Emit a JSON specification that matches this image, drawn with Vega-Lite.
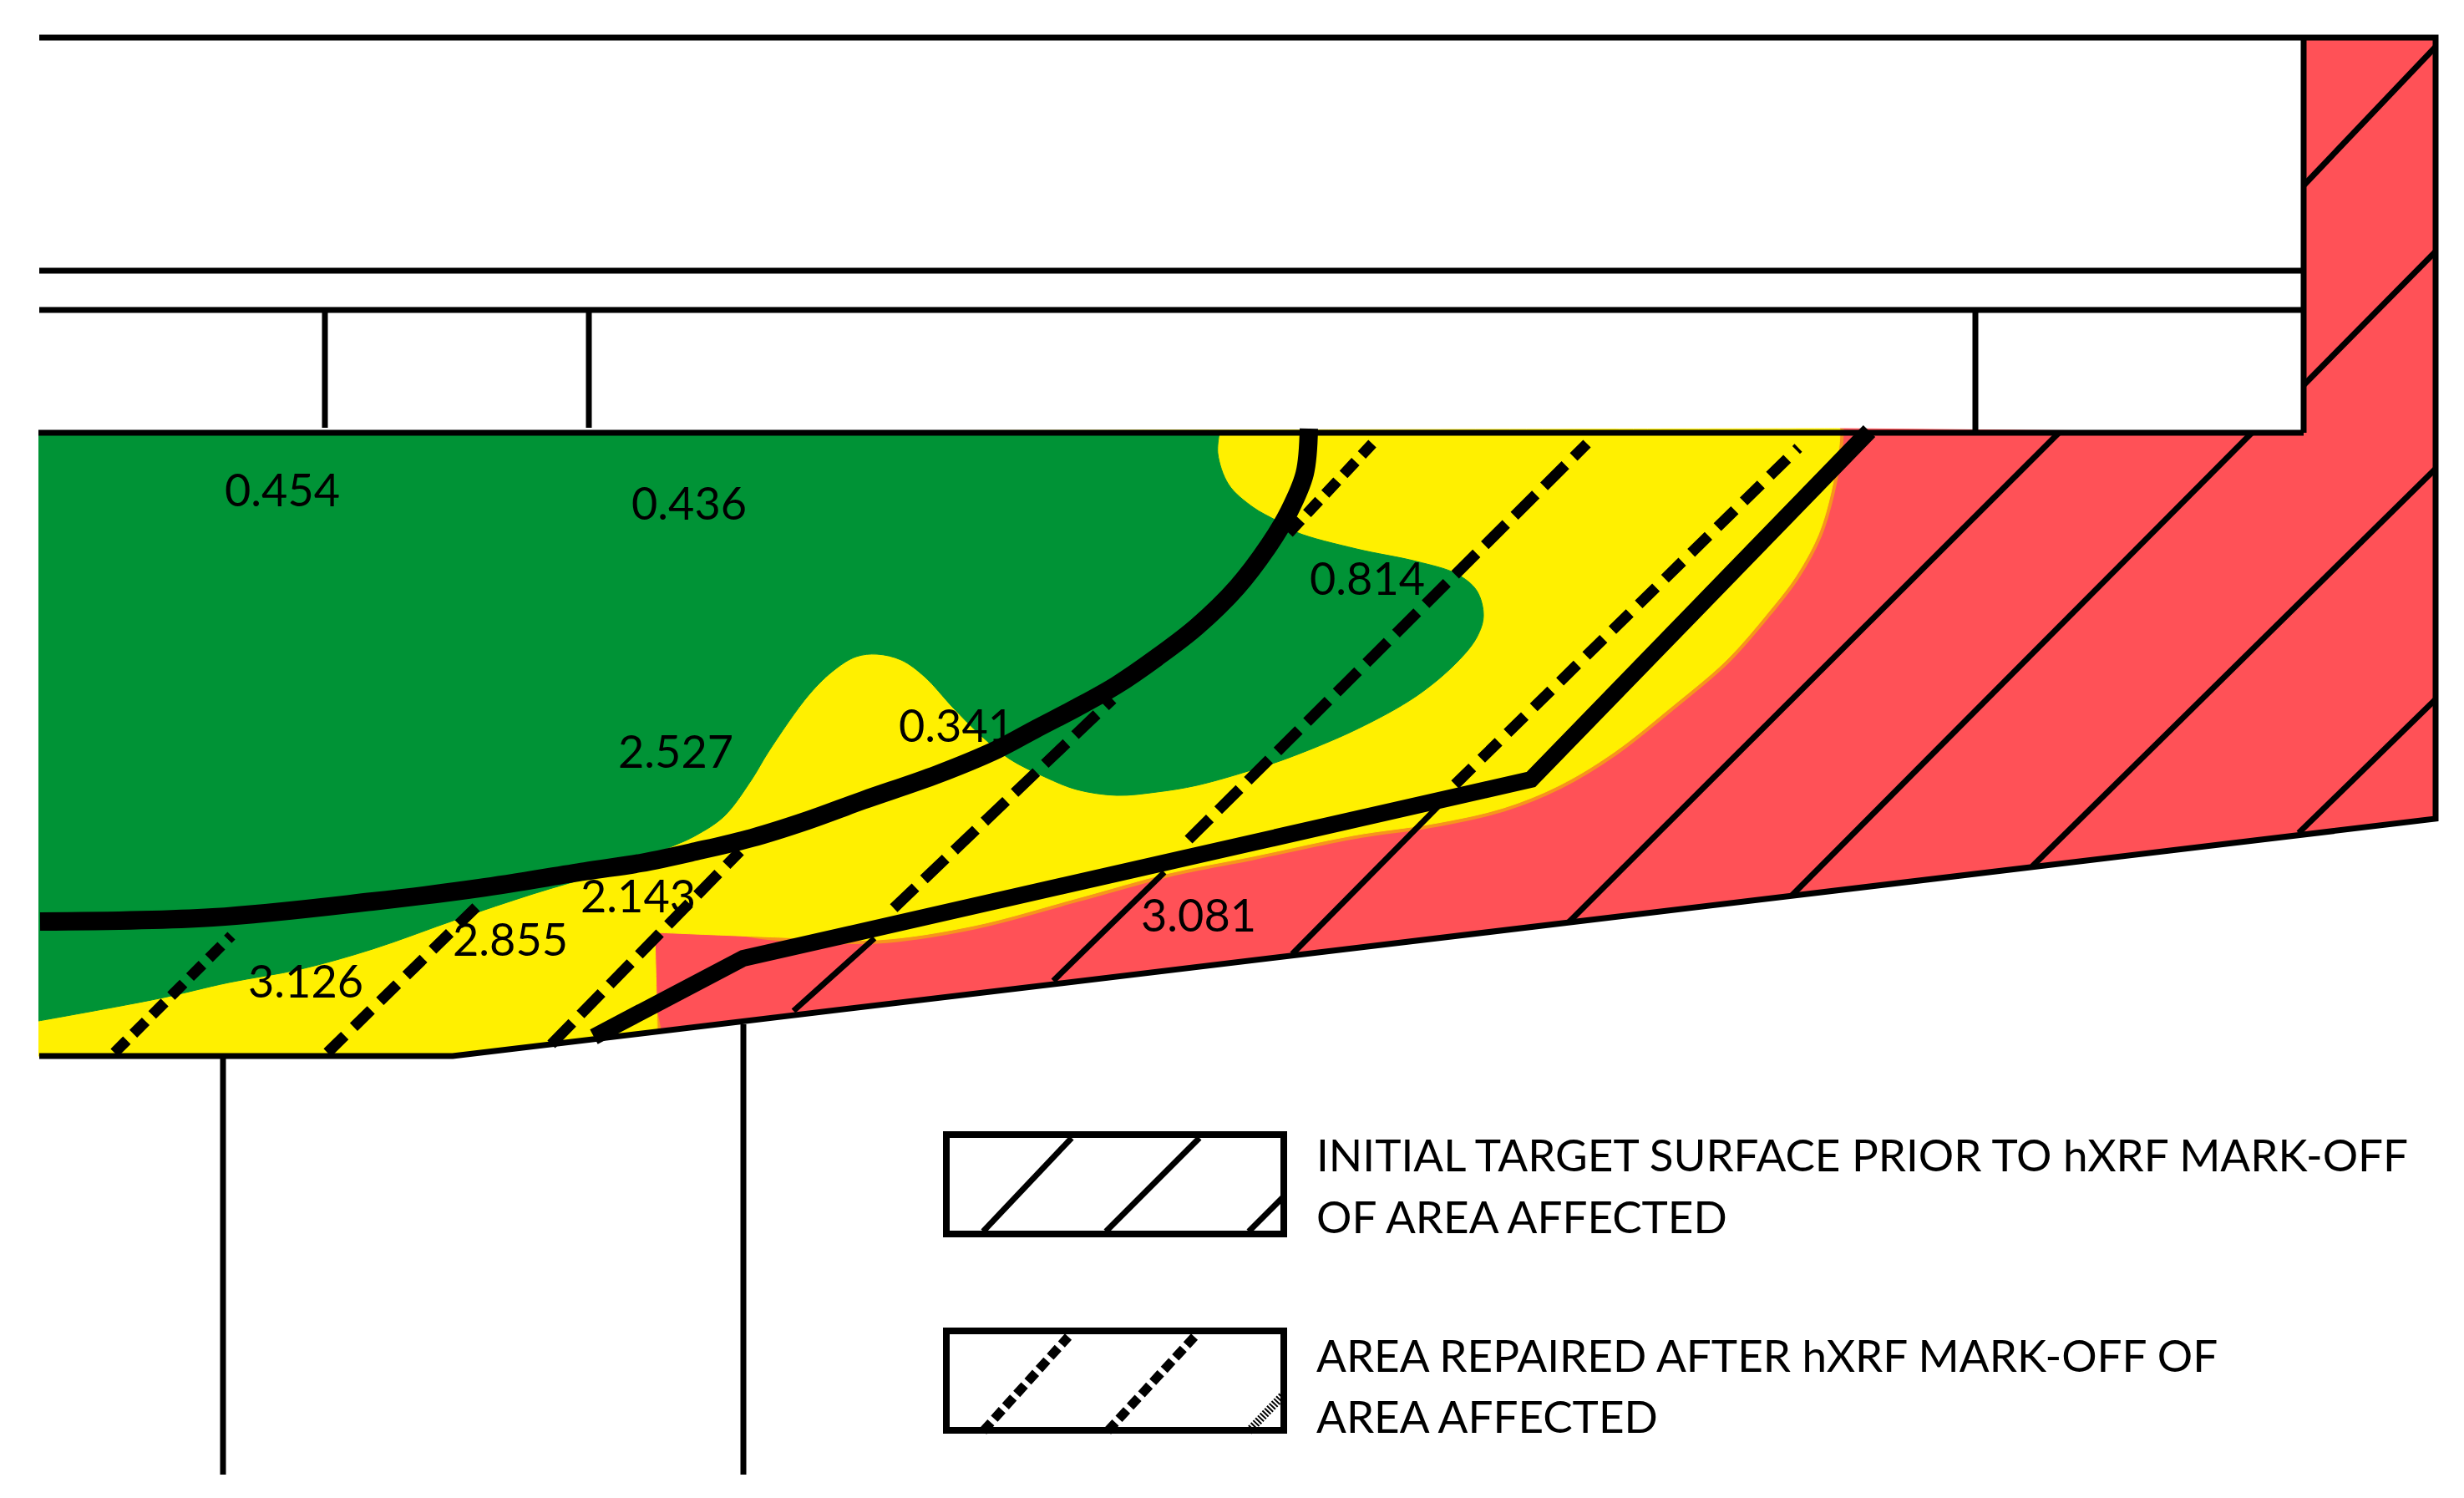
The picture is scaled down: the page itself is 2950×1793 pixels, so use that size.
{"$schema":"https://vega.github.io/schema/vega-lite/v6.json","width":2950,"height":1793,"autosize":{"type":"fit","contains":"padding"},"padding":0,"background":"white","view":{"stroke":null},
"config":{"axis":{"disable":true},"legend":{"disable":true}},
"datasets":{
"outline":[
{"shape":"red","order":1,"x":2758,"y":45},{"shape":"red","order":2,"x":2916,"y":45},{"shape":"red","order":3,"x":2916,"y":980},{"shape":"red","order":4,"x":784,"y":1232},{"shape":"red","order":5,"x":784,"y":1116},{"shape":"red","order":6,"x":1000,"y":1100},{"shape":"red","order":7,"x":1800,"y":900},{"shape":"red","order":8,"x":2203,"y":513},{"shape":"red","order":9,"x":2758,"y":518},
{"shape":"yellow","order":1,"x":46,"y":518},{"shape":"yellow","order":2,"x":46,"y":518},{"shape":"yellow","order":3,"x":2203,"y":513},{"shape":"yellow","order":4,"x":2203,"y":513},{"shape":"yellow","order":5,"x":2202,"y":533},{"shape":"yellow","order":6,"x":2192,"y":590},{"shape":"yellow","order":7,"x":2177,"y":640},{"shape":"yellow","order":8,"x":2150,"y":690},{"shape":"yellow","order":9,"x":2117,"y":733},{"shape":"yellow","order":10,"x":2067,"y":790},{"shape":"yellow","order":11,"x":2000,"y":847},{"shape":"yellow","order":12,"x":1933,"y":900},{"shape":"yellow","order":13,"x":1867,"y":940},{"shape":"yellow","order":14,"x":1800,"y":967},{"shape":"yellow","order":15,"x":1721,"y":985},{"shape":"yellow","order":16,"x":1620,"y":1000},{"shape":"yellow","order":17,"x":1500,"y":1025},{"shape":"yellow","order":18,"x":1400,"y":1045},{"shape":"yellow","order":19,"x":1290,"y":1075},{"shape":"yellow","order":20,"x":1166,"y":1108},{"shape":"yellow","order":21,"x":1050,"y":1125},{"shape":"yellow","order":22,"x":937,"y":1122},{"shape":"yellow","order":23,"x":784,"y":1116},{"shape":"yellow","order":24,"x":784,"y":1116},{"shape":"yellow","order":25,"x":787,"y":1232},{"shape":"yellow","order":26,"x":787,"y":1232},{"shape":"yellow","order":27,"x":542,"y":1264},{"shape":"yellow","order":28,"x":542,"y":1264},{"shape":"yellow","order":29,"x":46,"y":1264},{"shape":"yellow","order":30,"x":46,"y":1264},
{"shape":"green","order":1,"x":46,"y":518},{"shape":"green","order":2,"x":46,"y":518},{"shape":"green","order":3,"x":1460,"y":518},{"shape":"green","order":4,"x":1460,"y":518},{"shape":"green","order":5,"x":1458,"y":543},{"shape":"green","order":6,"x":1471,"y":580},{"shape":"green","order":7,"x":1500,"y":607},{"shape":"green","order":8,"x":1528,"y":623},{"shape":"green","order":9,"x":1552,"y":637},{"shape":"green","order":10,"x":1624,"y":657},{"shape":"green","order":11,"x":1696,"y":672},{"shape":"green","order":12,"x":1744,"y":687},{"shape":"green","order":13,"x":1768,"y":707},{"shape":"green","order":14,"x":1776,"y":737},{"shape":"green","order":15,"x":1768,"y":763},{"shape":"green","order":16,"x":1744,"y":793},{"shape":"green","order":17,"x":1696,"y":833},{"shape":"green","order":18,"x":1624,"y":873},{"shape":"green","order":19,"x":1543,"y":907},{"shape":"green","order":20,"x":1504,"y":920},{"shape":"green","order":21,"x":1433,"y":940},{"shape":"green","order":22,"x":1385,"y":948},{"shape":"green","order":23,"x":1337,"y":952},{"shape":"green","order":24,"x":1289,"y":945},{"shape":"green","order":25,"x":1251,"y":930},{"shape":"green","order":26,"x":1208,"y":908},{"shape":"green","order":27,"x":1174,"y":880},{"shape":"green","order":28,"x":1141,"y":847},{"shape":"green","order":29,"x":1107,"y":810},{"shape":"green","order":30,"x":1079,"y":790},{"shape":"green","order":31,"x":1050,"y":783},{"shape":"green","order":32,"x":1025,"y":786},{"shape":"green","order":33,"x":1000,"y":801},{"shape":"green","order":34,"x":969,"y":831},{"shape":"green","order":35,"x":920,"y":900},{"shape":"green","order":36,"x":900,"y":933},{"shape":"green","order":37,"x":867,"y":977},{"shape":"green","order":38,"x":833,"y":1000},{"shape":"green","order":39,"x":807,"y":1012},{"shape":"green","order":40,"x":720,"y":1045},{"shape":"green","order":41,"x":638,"y":1070},{"shape":"green","order":42,"x":548,"y":1100},{"shape":"green","order":43,"x":446,"y":1136},{"shape":"green","order":44,"x":360,"y":1160},{"shape":"green","order":45,"x":274,"y":1176},{"shape":"green","order":46,"x":191,"y":1195},{"shape":"green","order":47,"x":46,"y":1222},{"shape":"green","order":48,"x":46,"y":1222},
{"shape":"edge","order":1,"x":2203,"y":513},{"shape":"edge","order":2,"x":2202,"y":533},{"shape":"edge","order":3,"x":2192,"y":590},{"shape":"edge","order":4,"x":2177,"y":640},{"shape":"edge","order":5,"x":2150,"y":690},{"shape":"edge","order":6,"x":2117,"y":733},{"shape":"edge","order":7,"x":2067,"y":790},{"shape":"edge","order":8,"x":2000,"y":847},{"shape":"edge","order":9,"x":1933,"y":900},{"shape":"edge","order":10,"x":1867,"y":940},{"shape":"edge","order":11,"x":1800,"y":967},{"shape":"edge","order":12,"x":1721,"y":985},{"shape":"edge","order":13,"x":1620,"y":1000},{"shape":"edge","order":14,"x":1500,"y":1025},{"shape":"edge","order":15,"x":1400,"y":1045},{"shape":"edge","order":16,"x":1290,"y":1075},{"shape":"edge","order":17,"x":1166,"y":1108},{"shape":"edge","order":18,"x":1050,"y":1125},{"shape":"edge","order":19,"x":937,"y":1122},{"shape":"edge","order":20,"x":784,"y":1116},{"shape":"edge","order":21,"x":787,"y":1232},
{"shape":"arc","order":1,"x":48,"y":1103},{"shape":"arc","order":2,"x":255,"y":1098},{"shape":"arc","order":3,"x":446,"y":1079},{"shape":"arc","order":4,"x":574,"y":1063},{"shape":"arc","order":5,"x":700,"y":1043},{"shape":"arc","order":6,"x":767,"y":1033},{"shape":"arc","order":7,"x":833,"y":1019},{"shape":"arc","order":8,"x":900,"y":1003},{"shape":"arc","order":9,"x":967,"y":982},{"shape":"arc","order":10,"x":1033,"y":958},{"shape":"arc","order":11,"x":1122,"y":927},{"shape":"arc","order":12,"x":1194,"y":897},{"shape":"arc","order":13,"x":1241,"y":872},{"shape":"arc","order":14,"x":1289,"y":847},{"shape":"arc","order":15,"x":1337,"y":820},{"shape":"arc","order":16,"x":1385,"y":787},{"shape":"arc","order":17,"x":1433,"y":750},{"shape":"arc","order":18,"x":1481,"y":703},{"shape":"arc","order":19,"x":1519,"y":653},{"shape":"arc","order":20,"x":1543,"y":613},{"shape":"arc","order":21,"x":1562,"y":567},{"shape":"arc","order":22,"x":1567,"y":513},
{"shape":"repair","order":1,"x":711,"y":1241},{"shape":"repair","order":2,"x":890,"y":1147},{"shape":"repair","order":3,"x":1833,"y":933},{"shape":"repair","order":4,"x":2238,"y":516},
{"shape":"base","order":1,"x":47,"y":1264},{"shape":"base","order":2,"x":542,"y":1264},{"shape":"base","order":3,"x":2916,"y":980},{"shape":"base","order":4,"x":2916,"y":45},{"shape":"base","order":5,"x":47,"y":45}
],
"segments":[
{"kind":"frame","x":47,"y":324,"x2":2758,"y2":324},{"kind":"frame","x":47,"y":371,"x2":2758,"y2":371},{"kind":"frame","x":46,"y":518,"x2":2758,"y2":518},{"kind":"frame","x":2758,"y":45,"x2":2758,"y2":518},{"kind":"frame","x":389,"y":371,"x2":389,"y2":512},{"kind":"frame","x":705,"y":371,"x2":705,"y2":512},{"kind":"frame","x":2365,"y":371,"x2":2365,"y2":518},{"kind":"frame","x":267,"y":1264,"x2":267,"y2":1765},{"kind":"frame","x":890,"y":1226,"x2":890,"y2":1765},
{"kind":"hatch","x":2758,"y":222,"x2":2916,"y2":56},{"kind":"hatch","x":2758,"y":461,"x2":2916,"y2":301},{"kind":"hatch","x":2752,"y":997,"x2":2916,"y2":837},{"kind":"hatch","x":2433,"y":1037,"x2":2916,"y2":561},{"kind":"hatch","x":2145,"y":1072,"x2":2696,"y2":518},{"kind":"hatch","x":1878,"y":1104,"x2":2465,"y2":518},{"kind":"hatch","x":1547,"y":1142,"x2":1722,"y2":965},{"kind":"hatch","x":1261,"y":1174,"x2":1394,"y2":1044},{"kind":"hatch","x":950,"y":1210,"x2":1047,"y2":1123},{"kind":"hatch","x":1177,"y":1474,"x2":1283,"y2":1362},{"kind":"hatch","x":1324,"y":1474,"x2":1436,"y2":1362},{"kind":"hatch","x":1495,"y":1474,"x2":1537,"y2":1432},
{"kind":"dashA","x":137,"y":1260,"x2":277,"y2":1120},{"kind":"dashA","x":1543,"y":638,"x2":1643,"y2":531},
{"kind":"dashB","x":392,"y":1260,"x2":577,"y2":1079},{"kind":"dashB","x":1742,"y":939,"x2":2153,"y2":536},
{"kind":"dashC","x":660,"y":1250,"x2":886,"y2":1019},{"kind":"dashC","x":1070,"y":1087,"x2":1332,"y2":837},{"kind":"dashC","x":1423,"y":1005,"x2":1900,"y2":531},
{"kind":"keydash","x":1177,"y":1713,"x2":1279,"y2":1600},{"kind":"keydash","x":1326,"y":1713,"x2":1430,"y2":1600},
{"kind":"keyfine","x":1495,"y":1713,"x2":1537,"y2":1669}
],
"boxes":[{"box":"initial","x":1133,"y":1358,"x2":1537,"y2":1477},{"box":"repaired","x":1133,"y":1593,"x2":1537,"y2":1712}],
"labels":[
{"label":"0.454","x":269,"y":606},{"label":"0.436","x":756,"y":622},{"label":"2.527","x":740,"y":919},{"label":"2.143","x":695,"y":1092},{"label":"2.855","x":542,"y":1144},{"label":"3.126","x":297,"y":1194},{"label":"0.341","x":1076,"y":888},{"label":"0.814","x":1568,"y":712},{"label":"3.081","x":1366,"y":1115}
],
"legendText":[
{"label":"INITIAL TARGET SURFACE PRIOR TO hXRF MARK-OFF","x":1576,"y":1402},{"label":"OF AREA AFFECTED","x":1576,"y":1476},{"label":"AREA REPAIRED AFTER hXRF MARK-OFF OF","x":1576,"y":1642},{"label":"AREA AFFECTED","x":1576,"y":1715}
]},
"encoding":{
"x":{"field":"x","type":"quantitative","scale":{"domain":[0,2950],"range":[0,2950],"nice":false,"zero":false},"axis":null},
"y":{"field":"y","type":"quantitative","scale":{"domain":[0,1793],"range":[0,1793],"nice":false,"zero":false},"axis":null}
},
"layer":[
{"data":{"name":"outline"},"transform":[{"filter":"datum.shape==='red'"}],"mark":{"type":"line","fill":"#FF5157","stroke":"#FF5157","strokeWidth":1},"encoding":{"order":{"field":"order"}}},
{"data":{"name":"outline"},"transform":[{"filter":"datum.shape==='edge'"}],"mark":{"type":"line","stroke":"#F7941D","strokeWidth":9,"interpolate":"catmull-rom"},"encoding":{"order":{"field":"order"}}},
{"data":{"name":"outline"},"transform":[{"filter":"datum.shape==='yellow'"}],"mark":{"type":"line","fill":"#FFF000","stroke":"#FFF000","strokeWidth":1,"interpolate":"catmull-rom"},"encoding":{"order":{"field":"order"}}},
{"data":{"name":"outline"},"transform":[{"filter":"datum.shape==='green'"}],"mark":{"type":"line","fill":"#009336","stroke":"#009336","strokeWidth":1,"interpolate":"catmull-rom"},"encoding":{"order":{"field":"order"}}},
{"data":{"name":"segments"},"transform":[{"filter":"datum.kind==='hatch'"}],"mark":{"type":"rule","color":"black","strokeWidth":7},"encoding":{"x2":{"field":"x2"},"y2":{"field":"y2"}}},
{"data":{"name":"segments"},"transform":[{"filter":"datum.kind==='frame'"}],"mark":{"type":"rule","color":"black","strokeWidth":7},"encoding":{"x2":{"field":"x2"},"y2":{"field":"y2"}}},
{"data":{"name":"segments"},"transform":[{"filter":"datum.kind==='dashA'"}],"mark":{"type":"rule","color":"black","strokeWidth":13,"strokeDash":[21,11]},"encoding":{"x2":{"field":"x2"},"y2":{"field":"y2"}}},
{"data":{"name":"segments"},"transform":[{"filter":"datum.kind==='dashB'"}],"mark":{"type":"rule","color":"black","strokeWidth":13,"strokeDash":[29,15]},"encoding":{"x2":{"field":"x2"},"y2":{"field":"y2"}}},
{"data":{"name":"segments"},"transform":[{"filter":"datum.kind==='dashC'"}],"mark":{"type":"rule","color":"black","strokeWidth":13,"strokeDash":[36,14]},"encoding":{"x2":{"field":"x2"},"y2":{"field":"y2"}}},
{"data":{"name":"segments"},"transform":[{"filter":"datum.kind==='keydash'"}],"mark":{"type":"rule","color":"black","strokeWidth":11,"strokeDash":[14,6]},"encoding":{"x2":{"field":"x2"},"y2":{"field":"y2"}}},
{"data":{"name":"segments"},"transform":[{"filter":"datum.kind==='keyfine'"}],"mark":{"type":"rule","color":"black","strokeWidth":10,"strokeDash":[2,2]},"encoding":{"x2":{"field":"x2"},"y2":{"field":"y2"}}},
{"data":{"name":"outline"},"transform":[{"filter":"datum.shape==='base'"}],"mark":{"type":"line","stroke":"black","strokeWidth":7},"encoding":{"order":{"field":"order"}}},
{"data":{"name":"outline"},"transform":[{"filter":"datum.shape==='arc'"}],"mark":{"type":"line","stroke":"black","strokeWidth":22,"interpolate":"catmull-rom"},"encoding":{"order":{"field":"order"}}},
{"data":{"name":"outline"},"transform":[{"filter":"datum.shape==='repair'"}],"mark":{"type":"line","stroke":"black","strokeWidth":20},"encoding":{"order":{"field":"order"}}},
{"data":{"name":"boxes"},"mark":{"type":"rect","fill":null,"stroke":"black","strokeWidth":8},"encoding":{"x2":{"field":"x2"},"y2":{"field":"y2"}}},
{"data":{"name":"labels"},"mark":{"type":"text","font":"Lato","fontSize":54,"align":"left","baseline":"alphabetic","color":"black"},"encoding":{"text":{"field":"label"}}},
{"data":{"name":"legendText"},"mark":{"type":"text","font":"Lato","fontSize":53,"align":"left","baseline":"alphabetic","color":"black"},"encoding":{"text":{"field":"label"}}}
]}
